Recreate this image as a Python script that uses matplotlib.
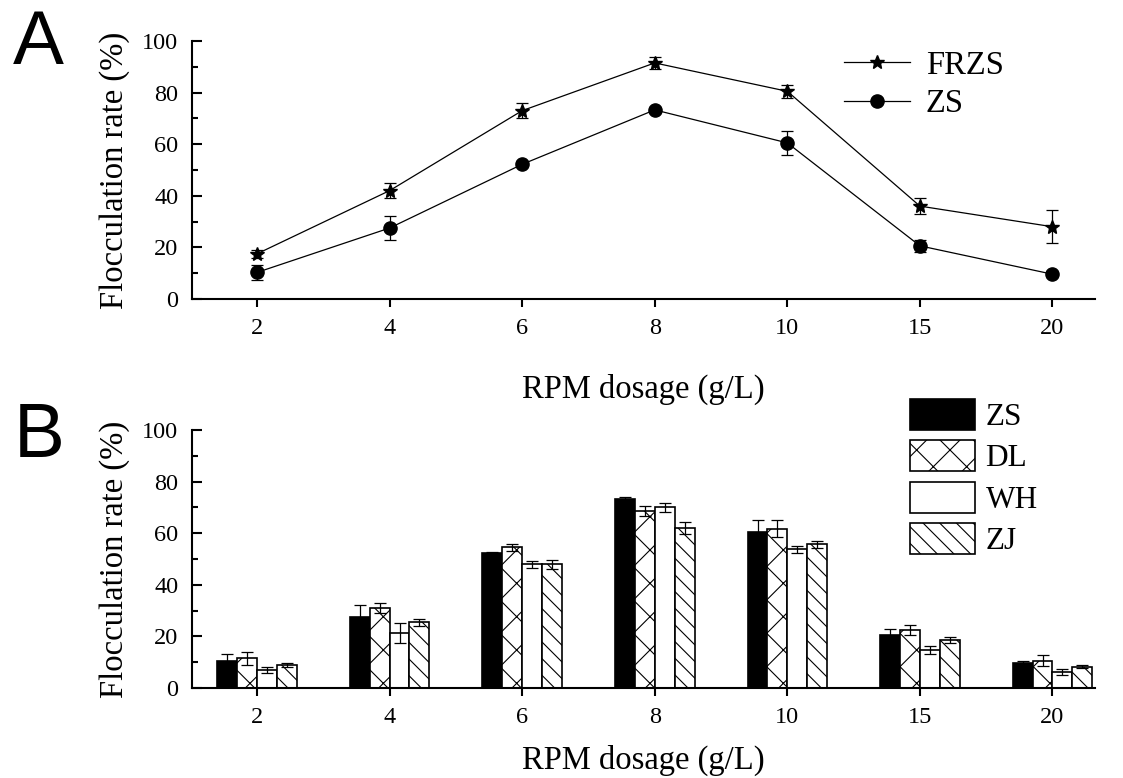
import numpy as np
import matplotlib.pyplot as plt
from matplotlib.ticker import MultipleLocator

# data
doses = ['2', '4', '6', '8', '10', '15', '20']

frzs = [17.5, 42.0, 73.0, 91.5, 80.5, 36.0, 28.0]
frzs_err = [1.5, 2.8, 2.8, 2.2, 2.5, 3.2, 6.3]

zs = [10.3, 27.5, 52.2, 73.3, 60.5, 20.6, 9.6]
zs_err = [3.0, 4.5, 0.7, 0.6, 4.6, 2.4, 0.7]
dl = [11.5, 31.0, 54.5, 68.7, 61.8, 22.5, 10.6]
dl_err = [2.4, 1.9, 1.3, 1.9, 3.4, 1.8, 2.0]
wh = [7.0, 21.4, 48.0, 70.0, 53.7, 14.7, 6.2]
wh_err = [1.0, 3.9, 1.3, 1.6, 1.4, 1.7, 1.3]
zj = [8.9, 25.5, 48.0, 62.1, 55.7, 18.6, 8.3]
zj_err = [0.7, 1.3, 1.7, 2.4, 1.3, 1.0, 0.7]

plt.rcParams['font.family'] = ['Liberation Serif', 'DejaVu Serif']
plt.rcParams['hatch.linewidth'] = 0.8
plt.rcParams['axes.linewidth'] = 1.5

x = np.arange(len(doses))

fig = plt.figure(figsize=(11.23, 7.78), dpi=100)
ax1 = fig.add_axes([0.171, 0.6157, 0.804, 0.3316])
ax2 = fig.add_axes([0.171, 0.1157, 0.804, 0.3316])


def style_axes(ax, labelpad):
    ax.spines['top'].set_visible(False)
    ax.spines['right'].set_visible(False)
    ax.set_xlim(-0.49, 6.32)
    ax.set_ylim(0, 100)
    ax.yaxis.set_major_locator(MultipleLocator(20))
    ax.yaxis.set_minor_locator(MultipleLocator(10))
    ax.tick_params(axis='y', which='major', direction='in', length=7, width=1.5,
                   labelsize=17.5, pad=10)
    ax.tick_params(axis='y', which='minor', direction='in', length=4, width=1.5)
    ax.tick_params(axis='x', direction='out', length=6, width=1.5,
                   labelsize=17.5, pad=8)
    ax.set_xticks(x)
    ax.set_xticklabels(doses)
    ax.set_ylabel('Flocculation rate (%)', fontsize=23.5, labelpad=9)
    ax.set_xlabel('RPM dosage (g/L)', fontsize=23.5, labelpad=labelpad)


# --- A: line chart ---
l1, = ax1.plot(x, frzs, '-', color='black', lw=0.9, marker='*', ms=10, label='FRZS')
l2, = ax1.plot(x, zs, '-', color='black', lw=0.9, marker='o', ms=9.5, label='ZS')
ax1.errorbar(x, frzs, yerr=frzs_err, fmt='none', ecolor='black', elinewidth=0.9,
             capsize=4.5, capthick=0.9)
ax1.errorbar(x, zs, yerr=zs_err, fmt='none', ecolor='black', elinewidth=0.9,
             capsize=4.5, capthick=0.9)
style_axes(ax1, 25)
ax1.legend(handles=[l1, l2], loc='upper left', bbox_to_anchor=(0.7373, 0.9563),
           bbox_transform=fig.transFigure, frameon=False, fontsize=23.5,
           borderpad=0, handlelength=2.0, handletextpad=0.5, labelspacing=0.24)

# --- B: grouped bars ---
w = 0.15
series = [(zs, zs_err, 'ZS', 'black', ''),
          (dl, dl_err, 'DL', 'white', 'x'),
          (wh, wh_err, 'WH', 'white', ''),
          (zj, zj_err, 'ZJ', 'white', '\\\\')]
bars = []
for i, (vals, errs, name, fc, hatch) in enumerate(series):
    pos = x + (i - 1.5) * w
    b = ax2.bar(pos, vals, width=w, color=fc, edgecolor='black', linewidth=1.2,
                hatch=hatch, label=name, zorder=2)
    ax2.errorbar(pos, vals, yerr=errs, fmt='none', ecolor='black', elinewidth=0.9,
                 capsize=4.5, capthick=0.9, zorder=3)
    bars.append(b)
style_axes(ax2, 12)
ax2.legend(handles=bars, loc='upper left', bbox_to_anchor=(0.7960, 0.5077),
           bbox_transform=fig.transFigure, frameon=False, fontsize=22.5,
           borderpad=0, handlelength=2.1, handleheight=1.15, handletextpad=0.33,
           labelspacing=0.27)

# panel letters
fig.text(0.011, 0.918, 'A', fontsize=55, family=['Liberation Sans', 'DejaVu Sans'])
fig.text(0.012, 0.413, 'B', fontsize=55, family=['Liberation Sans', 'DejaVu Sans'])

fig.savefig('out.png', dpi=100)
